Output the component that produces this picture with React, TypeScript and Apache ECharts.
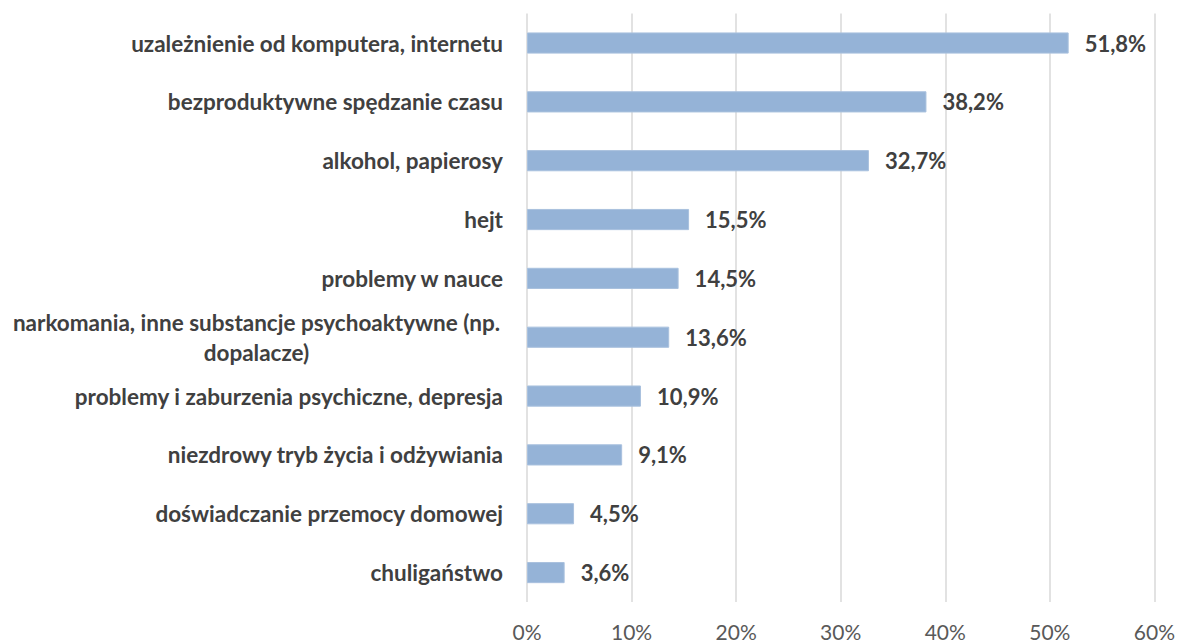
import React, { useEffect, useRef } from "react";
import * as echarts from "echarts";

const categories = [
  "uzależnienie od komputera, internetu",
  "bezproduktywne spędzanie czasu",
  "alkohol, papierosy",
  "hejt",
  "problemy w nauce",
  "narkomania, inne substancje psychoaktywne (np.\ndopalacze)",
  "problemy i zaburzenia psychiczne, depresja",
  "niezdrowy tryb życia i odżywiania",
  "doświadczanie przemocy domowej",
  "chuligaństwo",
];
const values = [51.8, 38.2, 32.7, 15.5, 14.5, 13.6, 10.9, 9.1, 4.5, 3.6];

export default function App() {
  const ref = useRef<HTMLDivElement>(null);
  useEffect(() => {
    document.body.style.margin = "0";
    const chart = echarts.init(ref.current!, null, { renderer: "svg" });
    const font = "Lato, 'Open Sans', sans-serif";
    chart.setOption({
      animation: false,
      grid: { left: 527, right: 23, top: 13.6, bottom: 41, containLabel: false },
      xAxis: {
        type: "value",
        min: 0,
        max: 60,
        interval: 10,
        axisLine: { show: false },
        axisTick: { show: false },
        axisLabel: {
          formatter: "{value}%",
          color: "#595959",
          fontSize: 21,
          lineHeight: 20,
          fontFamily: font,
          margin: 19,
        },
        splitLine: { lineStyle: { color: "#d9d9d9", width: 1.5 } },
      },
      yAxis: {
        type: "category",
        inverse: true,
        data: categories,
        axisLine: { show: false },
        axisTick: { show: false },
        axisLabel: {
          color: "#404040",
          fontSize: 22.5,
          fontWeight: "bold",
          fontFamily: font,
          margin: 24,
          align: "right",
          lineHeight: 30,
          formatter: (v: string) => {
            if (v.indexOf("\n") >= 0) {
              return v
                .split("\n")
                .map((s) => "{c|" + s + "}")
                .join("\n");
            }
            return v;
          },
          rich: {
            c: {
              width: 493,
              align: "center",
              color: "#404040",
              fontSize: 22.5,
              fontWeight: "bold",
              fontFamily: font,
              lineHeight: 30,
            },
          },
        },
      },
      series: [
        {
          type: "bar",
          data: values,
          barWidth: "36%",
          itemStyle: { color: "#95B3D7", borderColor: "#a9c1de", borderWidth: 1 },
          label: {
            show: true,
            position: "right",
            distance: 16,
            formatter: (p: any) => p.value.toFixed(1).replace(".", ",") + "%",
            color: "#404040",
            fontSize: 22,
            fontWeight: "bold",
            fontFamily: font,
          },
        },
      ],
    });
    return () => chart.dispose();
  }, []);
  return <div ref={ref} style={{ width: 1178, height: 643 }} />;
}
